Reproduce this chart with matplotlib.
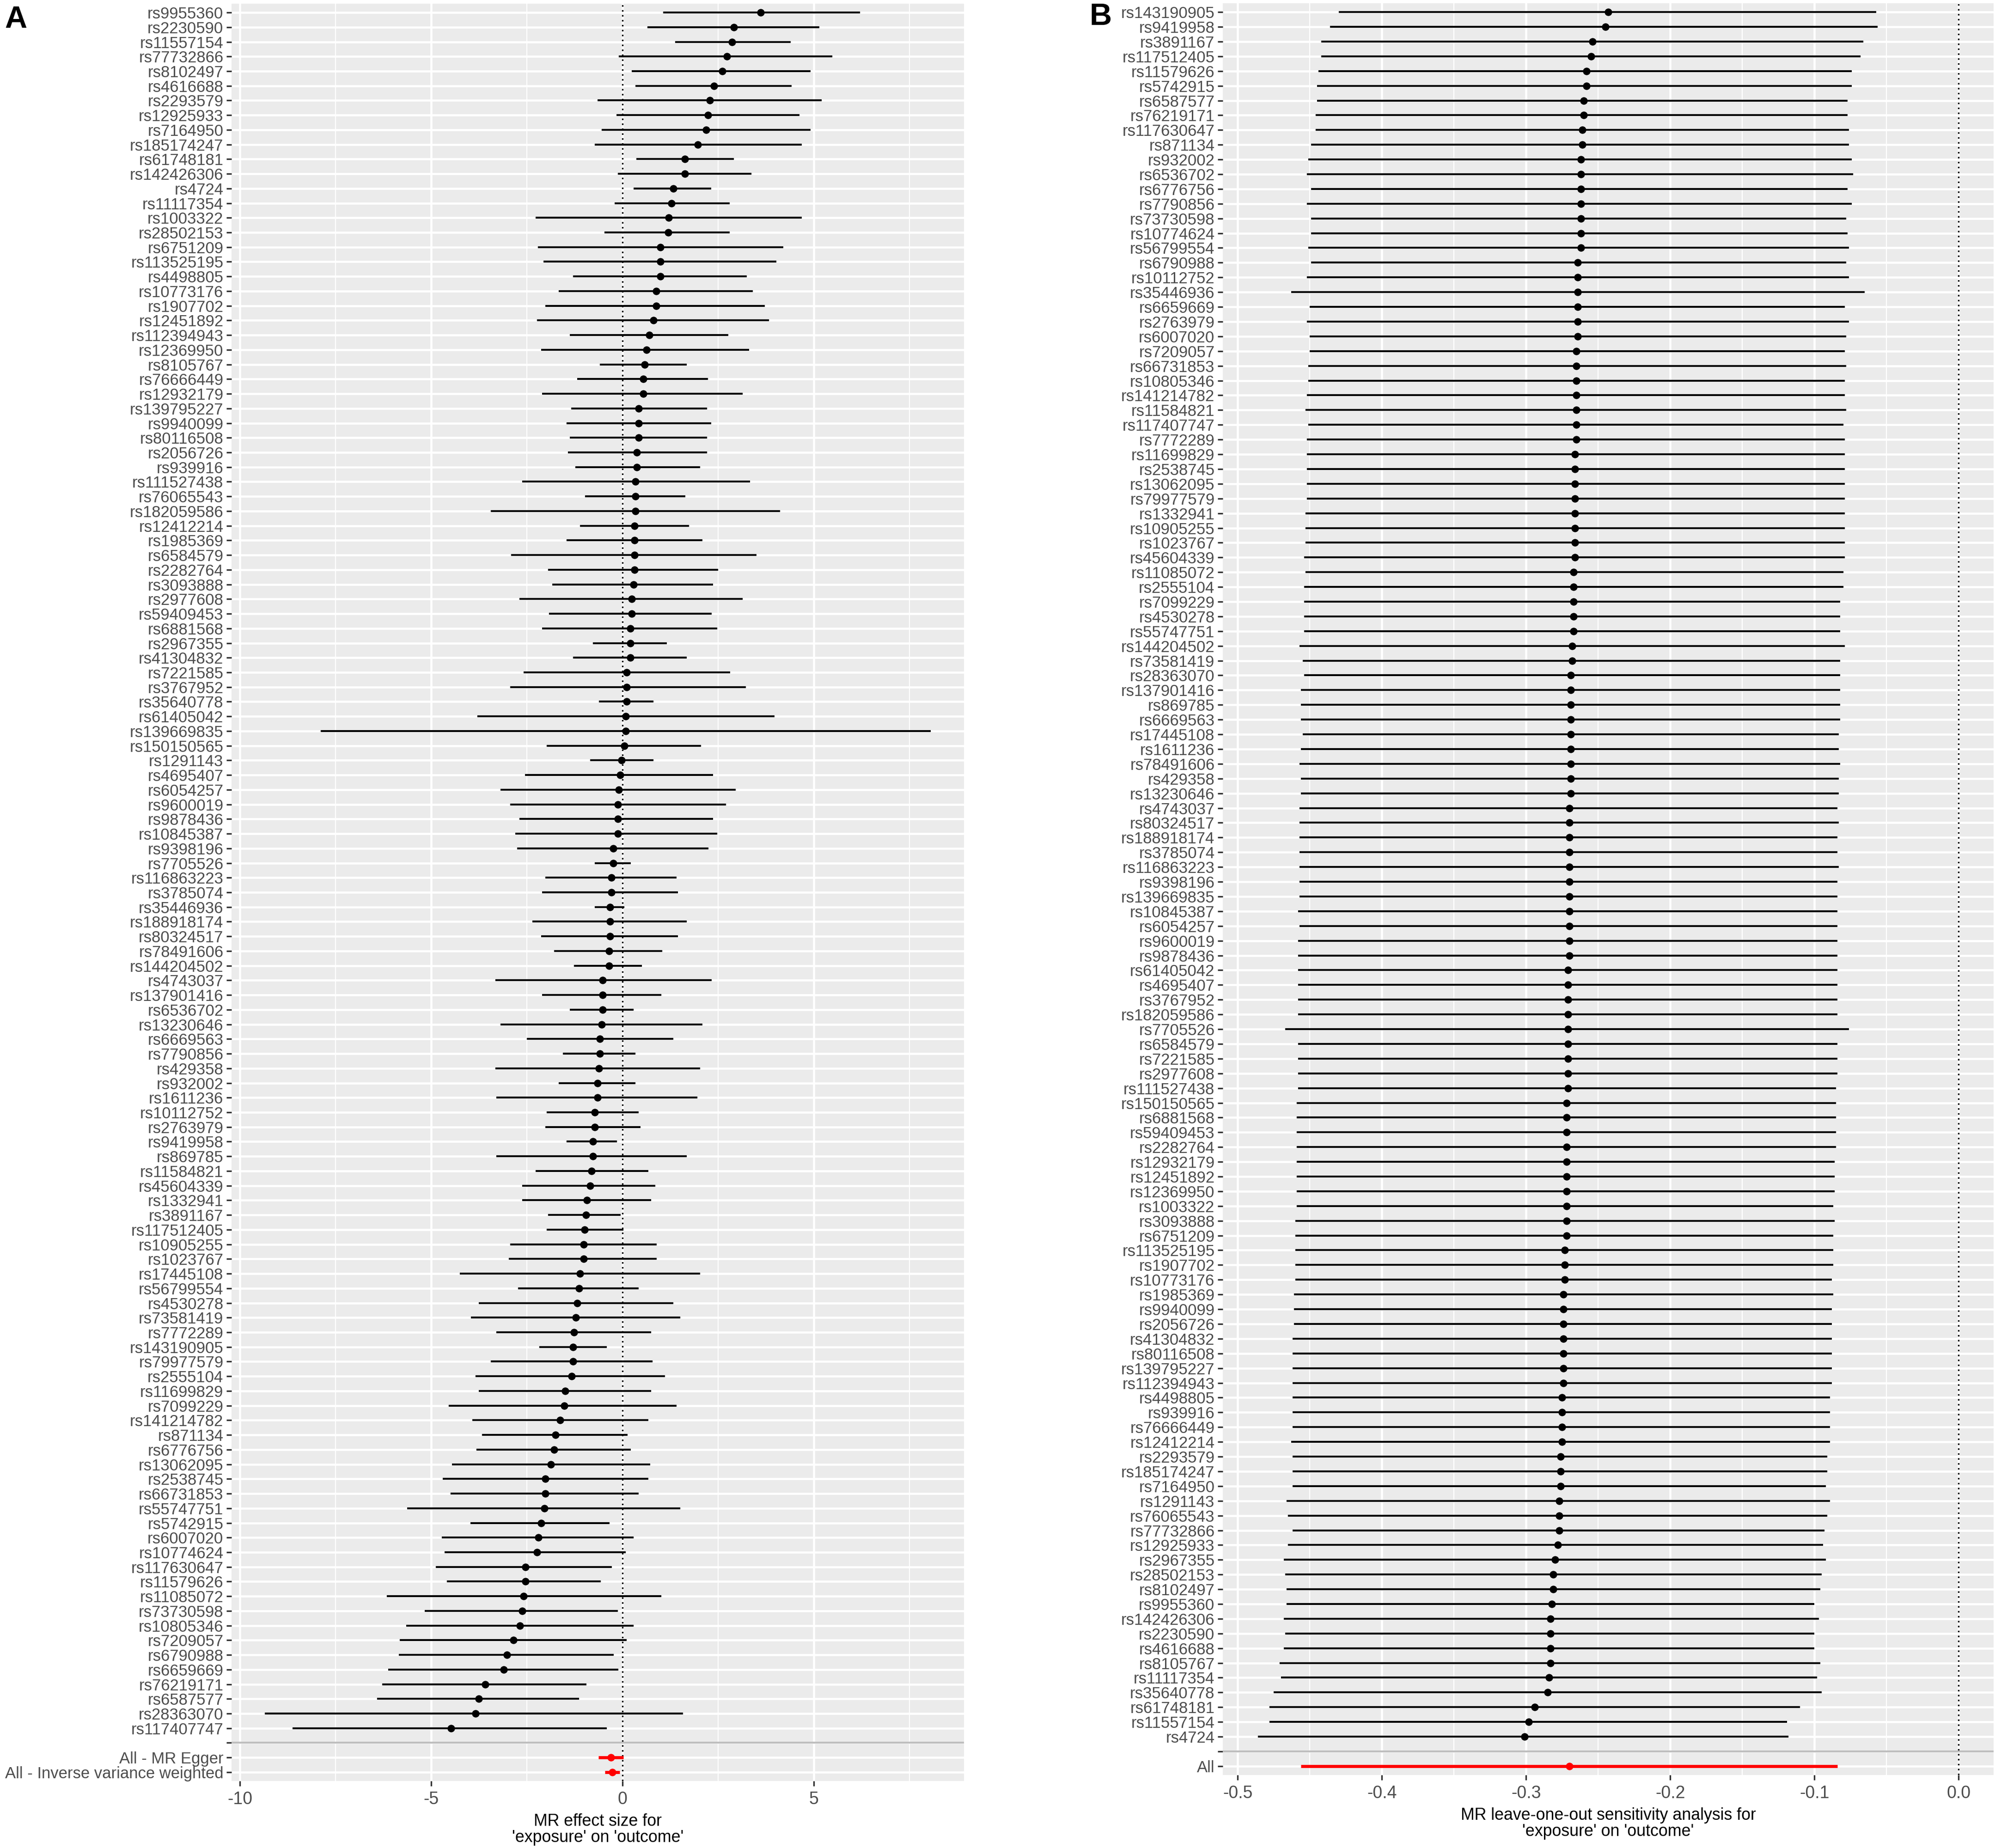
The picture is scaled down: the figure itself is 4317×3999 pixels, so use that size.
import numpy as np
import matplotlib
matplotlib.use("Agg")
import matplotlib.pyplot as plt
from matplotlib.ticker import MultipleLocator, FormatStrFormatter

plt.rcParams['font.family'] = ['Liberation Sans', 'DejaVu Sans']
plt.rcParams['axes.unicode_minus'] = False

# ---------------- Panel A data: single-SNP MR estimates ----------------
snps_a = [
    "rs9955360", "rs2230590", "rs11557154", "rs77732866", "rs8102497", "rs4616688",
    "rs2293579", "rs12925933", "rs7164950", "rs185174247", "rs61748181", "rs142426306",
    "rs4724", "rs11117354", "rs1003322", "rs28502153", "rs6751209", "rs113525195",
    "rs4498805", "rs10773176", "rs1907702", "rs12451892", "rs112394943", "rs12369950",
    "rs8105767", "rs76666449", "rs12932179", "rs139795227", "rs9940099", "rs80116508",
    "rs2056726", "rs939916", "rs111527438", "rs76065543", "rs182059586", "rs12412214",
    "rs1985369", "rs6584579", "rs2282764", "rs3093888", "rs2977608", "rs59409453",
    "rs6881568", "rs2967355", "rs41304832", "rs7221585", "rs3767952", "rs35640778",
    "rs61405042", "rs139669835", "rs150150565", "rs1291143", "rs4695407", "rs6054257",
    "rs9600019", "rs9878436", "rs10845387", "rs9398196", "rs7705526", "rs116863223",
    "rs3785074", "rs35446936", "rs188918174", "rs80324517", "rs78491606", "rs144204502",
    "rs4743037", "rs137901416", "rs6536702", "rs13230646", "rs6669563", "rs7790856",
    "rs429358", "rs932002", "rs1611236", "rs10112752", "rs2763979", "rs9419958",
    "rs869785", "rs11584821", "rs45604339", "rs1332941", "rs3891167", "rs117512405",
    "rs10905255", "rs1023767", "rs17445108", "rs56799554", "rs4530278", "rs73581419",
    "rs7772289", "rs143190905", "rs79977579", "rs2555104", "rs11699829", "rs7099229",
    "rs141214782", "rs871134", "rs6776756", "rs13062095", "rs2538745", "rs66731853",
    "rs55747751", "rs5742915", "rs6007020", "rs10774624", "rs117630647", "rs11579626",
    "rs11085072", "rs73730598", "rs10805346", "rs7209057", "rs6790988", "rs6659669",
    "rs76219171", "rs6587577", "rs28363070", "rs117407747",
]
beta_a = [
    3.61, 2.91, 2.86, 2.73, 2.60, 2.39, 2.28, 2.23, 2.18, 1.97, 1.63, 1.63,
    1.32, 1.28, 1.20, 1.19, 0.99, 0.99, 0.99, 0.88, 0.88, 0.80, 0.70, 0.62,
    0.57, 0.54, 0.54, 0.42, 0.42, 0.42, 0.37, 0.37, 0.34, 0.34, 0.34, 0.31,
    0.31, 0.31, 0.31, 0.28, 0.24, 0.24, 0.20, 0.20, 0.20, 0.11, 0.11, 0.11,
    0.08, 0.08, 0.05, -0.03, -0.07, -0.10, -0.13, -0.13, -0.13, -0.24, -0.24, -0.29,
    -0.29, -0.33, -0.33, -0.33, -0.36, -0.36, -0.52, -0.52, -0.52, -0.55, -0.59, -0.59,
    -0.62, -0.65, -0.65, -0.73, -0.73, -0.78, -0.78, -0.81, -0.85, -0.93, -0.96, -0.99,
    -1.02, -1.02, -1.11, -1.14, -1.19, -1.22, -1.27, -1.30, -1.30, -1.33, -1.50, -1.53,
    -1.64, -1.76, -1.79, -1.87, -2.02, -2.02, -2.05, -2.13, -2.20, -2.24, -2.54, -2.54,
    -2.59, -2.62, -2.68, -2.85, -3.02, -3.11, -3.59, -3.76, -3.85, -4.49,
]
lo_a = [
    1.06, 0.65, 1.37, -0.10, 0.24, 0.34, -0.65, -0.16, -0.55, -0.73, 0.36, -0.13,
    0.29, -0.21, -2.28, -0.47, -2.21, -2.07, -1.30, -1.67, -2.02, -2.24, -1.38, -2.13,
    -0.59, -1.19, -2.10, -1.35, -1.46, -1.38, -1.43, -1.24, -2.62, -0.98, -3.45, -1.12,
    -1.46, -2.91, -1.95, -1.84, -2.70, -1.92, -2.10, -0.78, -1.30, -2.59, -2.94, -0.62,
    -3.79, -7.89, -1.98, -0.85, -2.55, -3.19, -2.94, -2.70, -2.81, -2.76, -0.73, -2.02,
    -2.10, -0.73, -2.36, -2.13, -1.79, -1.27, -3.33, -2.10, -1.38, -3.19, -2.50, -1.56,
    -3.33, -1.67, -3.30, -1.98, -2.02, -1.46, -3.30, -2.28, -2.62, -2.62, -1.95, -1.98,
    -2.94, -2.98, -4.26, -2.73, -3.76, -3.97, -3.30, -2.18, -3.45, -3.84, -3.76, -4.54,
    -3.93, -3.67, -3.82, -4.46, -4.70, -4.50, -5.63, -3.98, -4.73, -4.65, -4.88, -4.59,
    -6.16, -5.17, -5.66, -5.82, -5.85, -6.13, -6.28, -6.42, -9.35, -8.63,
]
hi_a = [
    6.20, 5.14, 4.39, 5.48, 4.91, 4.42, 5.20, 4.62, 4.91, 4.68, 2.91, 3.37,
    2.31, 2.80, 4.68, 2.80, 4.20, 4.02, 3.25, 3.40, 3.71, 3.82, 2.76, 3.30,
    1.67, 2.23, 3.14, 2.20, 2.31, 2.20, 2.20, 2.02, 3.33, 1.64, 4.11, 1.74,
    2.08, 3.50, 2.50, 2.36, 3.14, 2.33, 2.47, 1.15, 1.67, 2.81, 3.22, 0.81,
    3.97, 8.05, 2.05, 0.81, 2.36, 2.96, 2.70, 2.36, 2.47, 2.24, 0.21, 1.41,
    1.45, 0.05, 1.67, 1.45, 1.04, 0.50, 2.33, 1.01, 0.29, 2.08, 1.33, 0.33,
    2.02, 0.33, 1.95, 0.42, 0.47, -0.15, 1.67, 0.67, 0.85, 0.75, -0.05, 0.02,
    0.89, 0.89, 2.02, 0.42, 1.33, 1.50, 0.75, -0.42, 0.78, 1.11, 0.75, 1.41,
    0.67, 0.13, 0.21, 0.72, 0.67, 0.42, 1.50, -0.34, 0.29, 0.08, -0.28, -0.57,
    1.01, -0.13, 0.29, 0.10, -0.23, -0.11, -0.94, -1.14, 1.58, -0.42,
]
methods_a = ["All - MR Egger", "All - Inverse variance weighted"]
mbeta_a = [-0.30, -0.27]
mlo_a = [-0.63, -0.46]
mhi_a = [0.02, -0.08]

# ---------------- Panel B data: leave-one-out ----------------
snps_b = [
    "rs143190905", "rs9419958", "rs3891167", "rs117512405", "rs11579626", "rs5742915",
    "rs6587577", "rs76219171", "rs117630647", "rs871134", "rs932002", "rs6536702",
    "rs6776756", "rs7790856", "rs73730598", "rs10774624", "rs56799554", "rs6790988",
    "rs10112752", "rs35446936", "rs6659669", "rs2763979", "rs6007020", "rs7209057",
    "rs66731853", "rs10805346", "rs141214782", "rs11584821", "rs117407747", "rs7772289",
    "rs11699829", "rs2538745", "rs13062095", "rs79977579", "rs1332941", "rs10905255",
    "rs1023767", "rs45604339", "rs11085072", "rs2555104", "rs7099229", "rs4530278",
    "rs55747751", "rs144204502", "rs73581419", "rs28363070", "rs137901416", "rs869785",
    "rs6669563", "rs17445108", "rs1611236", "rs78491606", "rs429358", "rs13230646",
    "rs4743037", "rs80324517", "rs188918174", "rs3785074", "rs116863223", "rs9398196",
    "rs139669835", "rs10845387", "rs6054257", "rs9600019", "rs9878436", "rs61405042",
    "rs4695407", "rs3767952", "rs182059586", "rs7705526", "rs6584579", "rs7221585",
    "rs2977608", "rs111527438", "rs150150565", "rs6881568", "rs59409453", "rs2282764",
    "rs12932179", "rs12451892", "rs12369950", "rs1003322", "rs3093888", "rs6751209",
    "rs113525195", "rs1907702", "rs10773176", "rs1985369", "rs9940099", "rs2056726",
    "rs41304832", "rs80116508", "rs139795227", "rs112394943", "rs4498805", "rs939916",
    "rs76666449", "rs12412214", "rs2293579", "rs185174247", "rs7164950", "rs1291143",
    "rs76065543", "rs77732866", "rs12925933", "rs2967355", "rs28502153", "rs8102497",
    "rs9955360", "rs142426306", "rs2230590", "rs4616688", "rs8105767", "rs11117354",
    "rs35640778", "rs61748181", "rs11557154", "rs4724",
]
beta_b = [
    -0.243, -0.245, -0.254, -0.255, -0.258, -0.258, -0.260, -0.260, -0.261, -0.261,
    -0.262, -0.262, -0.262, -0.262, -0.262, -0.262, -0.262, -0.264, -0.264, -0.264,
    -0.264, -0.264, -0.264, -0.265, -0.265, -0.265, -0.265, -0.265, -0.265, -0.265,
    -0.266, -0.266, -0.266, -0.266, -0.266, -0.266, -0.266, -0.266, -0.267, -0.267,
    -0.267, -0.267, -0.267, -0.268, -0.268, -0.269, -0.269, -0.269, -0.269, -0.269,
    -0.269, -0.269, -0.269, -0.269, -0.270, -0.270, -0.270, -0.270, -0.270, -0.270,
    -0.270, -0.270, -0.270, -0.270, -0.270, -0.271, -0.271, -0.271, -0.271, -0.271,
    -0.271, -0.271, -0.271, -0.271, -0.272, -0.272, -0.272, -0.272, -0.272, -0.272,
    -0.272, -0.272, -0.272, -0.272, -0.273, -0.273, -0.273, -0.274, -0.274, -0.274,
    -0.274, -0.274, -0.274, -0.274, -0.275, -0.275, -0.275, -0.275, -0.276, -0.276,
    -0.276, -0.277, -0.277, -0.277, -0.278, -0.280, -0.281, -0.281, -0.282, -0.283,
    -0.283, -0.283, -0.283, -0.284, -0.285, -0.294, -0.298, -0.301,
]
lo_b = [
    -0.430, -0.436, -0.442, -0.442, -0.444, -0.445, -0.445, -0.446, -0.446, -0.449,
    -0.451, -0.452, -0.449, -0.452, -0.449, -0.449, -0.451, -0.449, -0.452, -0.463,
    -0.450, -0.452, -0.450, -0.450, -0.451, -0.451, -0.452, -0.453, -0.451, -0.452,
    -0.452, -0.452, -0.452, -0.452, -0.453, -0.453, -0.453, -0.454, -0.453, -0.454,
    -0.454, -0.454, -0.454, -0.457, -0.455, -0.454, -0.456, -0.456, -0.456, -0.455,
    -0.456, -0.457, -0.456, -0.456, -0.457, -0.457, -0.457, -0.457, -0.457, -0.457,
    -0.457, -0.458, -0.457, -0.458, -0.458, -0.458, -0.458, -0.458, -0.458, -0.467,
    -0.458, -0.458, -0.458, -0.458, -0.459, -0.459, -0.459, -0.459, -0.459, -0.459,
    -0.459, -0.459, -0.460, -0.460, -0.460, -0.460, -0.460, -0.461, -0.461, -0.461,
    -0.462, -0.462, -0.462, -0.462, -0.462, -0.462, -0.462, -0.463, -0.462, -0.462,
    -0.462, -0.466, -0.465, -0.462, -0.465, -0.468, -0.467, -0.466, -0.466, -0.468,
    -0.467, -0.468, -0.471, -0.470, -0.475, -0.478, -0.478, -0.486,
]
hi_b = [
    -0.057, -0.056, -0.066, -0.068, -0.074, -0.074, -0.077, -0.077, -0.076, -0.076,
    -0.074, -0.073, -0.077, -0.074, -0.078, -0.077, -0.076, -0.078, -0.076, -0.065,
    -0.079, -0.076, -0.078, -0.079, -0.078, -0.079, -0.079, -0.078, -0.080, -0.079,
    -0.079, -0.079, -0.079, -0.079, -0.079, -0.079, -0.079, -0.079, -0.080, -0.080,
    -0.082, -0.082, -0.082, -0.079, -0.082, -0.082, -0.082, -0.082, -0.082, -0.083,
    -0.083, -0.082, -0.083, -0.083, -0.084, -0.083, -0.084, -0.084, -0.083, -0.084,
    -0.084, -0.084, -0.084, -0.084, -0.084, -0.084, -0.084, -0.084, -0.084, -0.076,
    -0.084, -0.084, -0.084, -0.085, -0.085, -0.085, -0.085, -0.085, -0.086, -0.086,
    -0.086, -0.087, -0.086, -0.087, -0.087, -0.087, -0.088, -0.087, -0.088, -0.088,
    -0.088, -0.088, -0.088, -0.088, -0.089, -0.089, -0.089, -0.089, -0.091, -0.091,
    -0.092, -0.089, -0.091, -0.093, -0.094, -0.092, -0.095, -0.096, -0.100, -0.097,
    -0.100, -0.100, -0.096, -0.098, -0.095, -0.110, -0.119, -0.118,
]
methods_b = ["All"]
mbeta_b = [-0.270]
mlo_b = [-0.456]
mhi_b = [-0.084]

# ---------------- figure ----------------
W, H, DPI = 4317, 3999, 300
fig = plt.figure(figsize=(W / DPI, H / DPI), dpi=DPI)
fig.patch.set_facecolor('white')


def px_axes(l, t, r, b):
    return fig.add_axes([l / W, 1 - b / H, (r - l) / W, (b - t) / H])


def forest(ax, snps, beta, lo, hi, mlab, mbeta, mlo, mhi, major, minor, fmt, xlabel):
    labels = list(snps) + [""] + list(mlab)
    n = len(labels)
    y_snp = np.arange(len(snps))
    y_sep = len(snps)
    y_sum = np.arange(len(snps) + 1, n)
    ax.set_facecolor('#EBEBEB')
    xmin = min(np.min(lo), np.min(mlo), 0.0)
    xmax = max(np.max(hi), np.max(mhi), 0.0)
    pad = 0.05 * (xmax - xmin)
    ax.set_xlim(xmin - pad, xmax + pad)
    ax.set_ylim(n - 1 + 0.6, -0.6)
    ax.xaxis.set_major_locator(MultipleLocator(major))
    ax.xaxis.set_minor_locator(MultipleLocator(minor))
    ax.xaxis.set_major_formatter(FormatStrFormatter(fmt))
    ax.set_yticks(np.arange(n))
    ax.set_yticklabels(labels)
    ax.set_axisbelow(True)
    ax.grid(which='major', color='white', lw=1.1)
    ax.grid(which='minor', axis='x', color='white', lw=0.55)
    ax.axvline(0, color='black', ls=(0, (1, 2.2)), lw=0.8, zorder=2)
    ax.axhline(y_sep, color='#BEBEBE', lw=1.0, zorder=2)
    ax.hlines(y_snp, lo, hi, color='black', lw=1.0, zorder=3)
    ax.plot(beta, y_snp, 'o', color='black', ms=3.9, mec='none', zorder=4)
    ax.hlines(y_sum, mlo, mhi, color='#FF0000', lw=1.6, zorder=3)
    ax.plot(mbeta, y_sum, 'o', color='#FF0000', ms=3.9, mec='none', zorder=4)
    for s in ax.spines.values():
        s.set_visible(False)
    ax.tick_params(axis='both', which='major', length=2.75, width=0.8,
                   color='#333333', labelcolor='#4D4D4D', pad=1.5)
    ax.tick_params(axis='y', labelsize=8.3)
    ax.tick_params(axis='x', labelsize=9.0, pad=2.5)
    ax.tick_params(which='minor', length=0)
    ax.set_xlabel(xlabel, fontsize=8.6, color='black', labelpad=3, linespacing=1.0)


axA = px_axes(501, 8, 2086, 3854)
forest(axA, snps_a, beta_a, lo_a, hi_a, methods_a, mbeta_a, mlo_a, mhi_a,
       5, 2.5, '%d', "MR effect size for\n'exposure' on 'outcome'")

axB = px_axes(2646, 7, 4314, 3841)
forest(axB, snps_b, beta_b, lo_b, hi_b, methods_b, mbeta_b, mlo_b, mhi_b,
       0.1, 0.05, '%.1f', "MR leave-one-out sensitivity analysis for\n'exposure' on 'outcome'")

fig.text(10 / W, 1 - 12 / H, "A", fontsize=16, fontweight='bold', ha='left', va='top')
fig.text(2358 / W, 1 - 6 / H, "B", fontsize=16, fontweight='bold', ha='left', va='top')

fig.savefig("out.png", dpi=DPI, facecolor='white')
